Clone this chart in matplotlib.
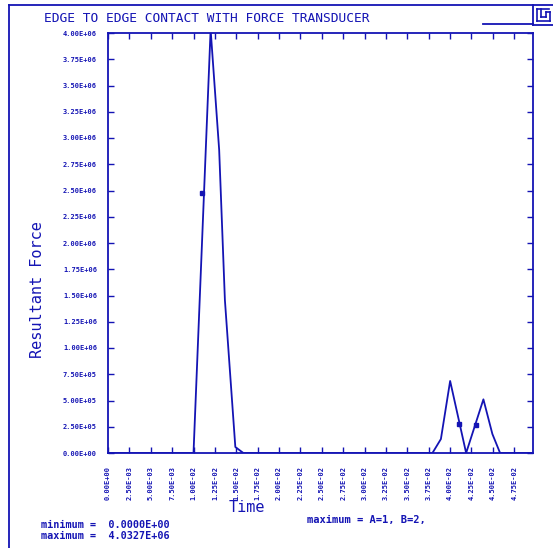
import matplotlib
matplotlib.use("Agg")
import matplotlib.pyplot as plt
from matplotlib.lines import Line2D
import numpy as np

# curve values
time = [0.0, 0.0100, 0.0120, 0.0130, 0.01367, 0.01489, 0.01583,
        0.03794, 0.03893, 0.04001, 0.04188, 0.04390, 0.04495, 0.04585, 0.0497]
force = [0.0, 0.0, 4.0327e6, 2.886e6, 1.457e6, 0.057e6, 0.0,
         0.0, 0.133e6, 0.686e6, 0.0, 0.511e6, 0.181e6, 0.0, 0.0]

# curve symbols (A, B labels)
mark_time = [0.01104, 0.04106, 0.04305]
mark_force = [2.476e6, 0.276e6, 0.262e6]

xticks = np.arange(0, 0.0476, 0.0025)
yticks = np.arange(0, 4.0e6 + 1, 2.5e5)

blue = '#1414b4'
W, H = 553, 548

fig = plt.figure(figsize=(W / 100, H / 100), dpi=100)
ax = fig.add_axes([108 / W, 1 - 453 / H, 425 / W, 420 / H])

ax.plot(time, force, color=blue, lw=1.3, clip_on=True)
ax.plot(mark_time, mark_force, 's', color=blue, ms=2.5)

ax.set_xlim(0, 0.0497)
ax.set_ylim(0, 4.0e6)
ax.set_xticks(xticks)
ax.set_yticks(yticks)
ax.set_xticklabels(['%.2E' % v for v in xticks], rotation=90,
                   family='DejaVu Sans Mono', fontsize=5, fontweight='bold', color=blue)
ax.set_yticklabels(['%.2E' % v for v in yticks],
                   family='DejaVu Sans Mono', fontsize=5, fontweight='bold', color=blue)
ax.tick_params(direction='in', top=True, right=True, length=4, width=1,
               color=blue, pad=8)
ax.tick_params(axis='x', pad=9)
for s in ax.spines.values():
    s.set_color(blue)
    s.set_linewidth(1.3)

fig.text(44 / W, 1 - 18 / H, 'EDGE TO EDGE CONTACT WITH FORCE TRANSDUCER',
         family='DejaVu Sans Mono', fontsize=9.3, color=blue, ha='left', va='center')
fig.text(247 / W, 1 - 507 / H, 'Time', family='DejaVu Sans Mono', fontsize=11,
         color=blue, ha='center', va='center')
fig.text(38 / W, 1 - 290 / H, 'Resultant Force', family='DejaVu Sans Mono',
         fontsize=11, color=blue, rotation=90, ha='center', va='center')

fig.text(41 / W, 1 - 525 / H, 'minimum =  0.0000E+00', family='DejaVu Sans Mono',
         fontsize=7.3, fontweight='bold', color=blue, ha='left', va='center')
fig.text(41 / W, 1 - 536 / H, 'maximum =  4.0327E+06', family='DejaVu Sans Mono',
         fontsize=7.3, fontweight='bold', color=blue, ha='left', va='center')
fig.text(307 / W, 1 - 520 / H, 'maximum = A=1, B=2,', family='DejaVu Sans Mono',
         fontsize=7.5, fontweight='bold', color=blue, ha='left', va='center')

# outer frame and logo
def seg(x0, y0, x1, y1, lw=1.3):
    fig.add_artist(Line2D([x0 / W, x1 / W], [1 - y0 / H, 1 - y1 / H],
                          color=blue, lw=lw, transform=fig.transFigure))

seg(9, 5, W, 5)
seg(9, 5, 9, H)
seg(483, 24, 533, 24)
seg(533, 5, 533, 25)
seg(533, 25, 553, 25)
# LS glyph
seg(537, 9, 537, 21, 1.2)
seg(537, 21, 550, 21, 1.2)
seg(537, 9, 549, 9, 1.2)
seg(541, 9, 541, 17, 1.2)
seg(541, 17, 546, 17, 1.2)
seg(546, 12, 546, 17, 1.2)
seg(546, 12, 550, 12, 1.2)
seg(550, 12, 550, 21, 1.2)

fig.savefig('out.png', dpi=100)
